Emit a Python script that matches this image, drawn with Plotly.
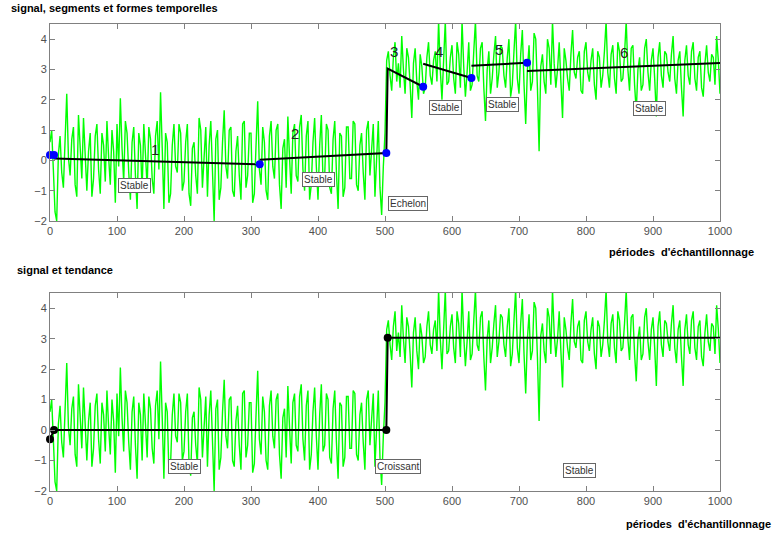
import plotly.graph_objects as go

# ---- data ----
# signal sampled every 2.5 sampling periods (0 .. 1000)
signal_first = [
    0.6, 1.0, -0.3, -1.7, -2.0, 0.2, 0.8, -0.4, -0.9, 1.1,
    2.2, 0.1, -0.5, 0.7, 1.1, -0.8, -1.2, 1.5, 0.4, -0.6,
    1.4, 0.2, -1.0, 0.3, 0.9, -1.2, -0.6, 0.8, 1.2, -0.3,
    -1.1, 0.9, 0.5, -0.7, 1.3, 0.1, -0.8, 1.0, 0.3, -1.4,
    1.2, -0.2, 2.05, 0.4, -0.7, 1.3, 0.9, -0.4, -1.3, 0.6,
    1.1, -0.5, -1.6, 0.9, 0.5, -1.0, 1.2, 0.2, -0.9, 1.1,
    0.7, -0.6, -1.1, 0.8, 1.3, -0.3, 2.25, 0.4, -1.6, 0.9,
    0.6, -1.4, -1.1, 0.5, 1.2, -0.2, -0.4, 1.2, 0.9, -1.0,
    -0.7, 0.6, 1.2, -1.1, -1.5, 0.4, 0.6, -0.5, -1.1, 1.4,
    1.0, -0.9, 0.3, 1.1, -1.2, 0.5, 1.3, -0.8, -2.0, 0.7,
    1.0, -1.3, -0.9, 0.6, 1.65, -0.2, -0.6, 1.0, 1.1, -1.0,
    -1.2, 0.3, 0.8, -0.5, -1.3, 1.2, 1.3, -0.9, -0.5, 0.9,
    0.9, -1.4, -1.1, 0.5, 1.95, -0.3, -0.8, 1.1, 0.6, -1.0,
    -1.3, 0.8, 1.3, -0.2, -0.6, 1.0, 1.2, -0.8, -1.6, 0.4,
    0.7, -0.9, 1.45, 0.1, -1.1, 0.9, 1.2, -0.5, -0.7, 1.1,
    1.5, -0.3, -1.0, 0.8, 1.3, -1.3, -0.8, 0.6, 1.4, -0.2,
    -1.3, 0.5, 1.5, -0.7, -0.5, 1.2, 1.0, -0.9, -1.1, 0.7,
    1.3, -0.4, -1.6, 0.9, 0.8, -1.2, -0.9, 1.1, 1.1, -0.6,
    -0.6, 1.3, 1.2, -0.8, -1.0, 0.5, 0.9, -0.4, -1.3, 1.0,
    1.3, -0.5, 0.3, 1.2, -1.2, 0.4, 1.3, -0.9, -1.8, -0.2,
    0.9,
]
signal_second = [
    3.3, 3.6, 2.8, 2.3, 3.4, 3.9, 2.6, 3.2, 2.4, 4.1,
    3.0, 2.2, 3.7, 3.4, 2.5, 1.4, 3.2, 3.7, 2.6, 2.0,
    3.5, 3.1, 2.2, 2.4, 3.4, 3.9, 2.8, 2.5, 3.3, 3.6,
    2.6, 4.6, 3.0, 2.0, 3.3, 4.6, 2.5, 2.6, 3.4, 3.8,
    2.7, 2.2, 3.9, 3.5, 2.4, 4.6, 3.1, 2.1, 2.9, 3.9,
    2.3, 2.5, 3.6, 4.6, 2.8, 2.6, 3.7, 3.9, 2.4, 1.3,
    3.0, 3.6, 2.2, 2.7, 3.5, 4.1, 2.4, 2.9, 3.8, 3.7,
    2.8, 2.4, 3.4, 4.0, 2.1, 2.5, 3.6, 4.6, 2.7, 2.2,
    3.5, 4.3, 2.5, 1.2, 3.0, 3.8, 2.3, 2.6, 4.2, 4.0,
    2.4, 0.3, 3.1, 3.5, 2.6, 2.2, 4.0, 3.7, 2.5, 4.6,
    3.2, 2.4, 3.0, 3.9, 2.6, 1.4, 3.7, 3.3, 2.7, 2.3,
    3.5, 4.3, 2.9, 2.7, 3.4, 3.6, 2.3, 2.2, 3.6, 3.9,
    2.9, 2.6, 3.3, 3.7, 2.5, 2.0, 3.6, 3.4, 2.4, 2.8,
    3.6, 4.6, 2.9, 2.4, 3.5, 3.8, 2.7, 2.2, 3.9, 3.6,
    2.6, 2.7, 3.5, 4.6, 3.0, 2.3, 3.7, 3.8, 2.5, 1.6,
    3.0, 3.4, 2.3, 2.5, 3.7, 4.0, 2.9, 2.3, 3.3, 3.7,
    2.7, 1.45, 3.4, 3.9, 2.8, 2.4, 3.6, 3.5, 2.9, 2.6,
    3.5, 4.1, 2.7, 2.2, 3.3, 3.6, 2.4, 1.45, 3.3, 3.8,
    2.8, 2.5, 3.6, 3.9, 2.7, 2.3, 3.4, 3.6, 2.4, 2.1,
    3.2, 3.8, 2.9, 2.6, 3.5, 3.4, 2.5, 4.1, 3.3, 2.2,
]
signal_y = signal_first + signal_second
signal_x = [i * 2.5 for i in range(len(signal_y))]

# segments (top panel)
seg_x = [6, 313, None, 313, 502, 504, 557, None, 557, 629, None, 629, 712, None, 712, 1000]
seg_y = [0.06, -0.13, None, 0.02, 0.24, 3.03, 2.43, None, 3.19, 2.72, None, 3.12, 3.22, None, 2.95, 3.21]
seg_pts_x = [0, 6, 313, 502, 557, 629, 712]
seg_pts_y = [0.18, 0.18, -0.13, 0.24, 2.43, 2.72, 3.22]
seg_num_labels = ["1", "2", "3", "4", "5", "6"]
seg_num_x = [156, 366, 513, 581, 670, 857]
seg_num_y = [0.35, 0.9, 3.6, 3.6, 3.65, 3.55]
shape_top_labels = ["Stable", "Stable", "Echelon", "Stable", "Stable", "Stable"]
shape_top_x = [126, 401, 534, 590, 675, 895]
shape_top_y = [-0.83, -0.63, -1.42, 1.75, 1.85, 1.72]

# trend (bottom panel)
trend_x = [0, 6, 502, 504, 1000]
trend_y = [-0.3, 0.0, 0.0, 3.03, 3.03]
trend_pts_x = [0, 6, 502, 504]
trend_pts_y = [-0.3, 0.0, 0.0, 3.03]
shape_bot_labels = ["Stable", "Croissant", "Stable"]
shape_bot_x = [201, 519, 791]
shape_bot_y = [-1.19, -1.19, -1.32]

x_ticks = [0, 100, 200, 300, 400, 500, 600, 700, 800, 900, 1000]
y_ticks = [-2, -1, 0, 1, 2, 3, 4]

# ---- figure ----
W, H = 776, 536
L, R, T, B = 50, 56, 24, 45
PH = H - T - B

def py(p):
    return (H - B - p) / PH

def px(p):
    return (p - L) / (W - L - R)

fig = go.Figure()
FONT = "Liberation Sans, Arial, sans-serif"

for xa, ya in [("x", "y"), ("x2", "y2")]:
    fig.add_trace(go.Scatter(x=signal_x, y=signal_y, mode="lines",
                             line=dict(color="#00ff00", width=1.4),
                             xaxis=xa, yaxis=ya, showlegend=False, hoverinfo="skip"))

fig.add_trace(go.Scatter(x=seg_x, y=seg_y, mode="lines",
                         line=dict(color="black", width=2), xaxis="x", yaxis="y",
                         showlegend=False, connectgaps=False))
fig.add_trace(go.Scatter(x=seg_pts_x, y=seg_pts_y, mode="markers",
                         marker=dict(color="#0000ff", size=8), xaxis="x", yaxis="y",
                         showlegend=False, cliponaxis=False))
fig.add_trace(go.Scatter(x=trend_x, y=trend_y, mode="lines",
                         line=dict(color="black", width=2), xaxis="x2", yaxis="y2",
                         showlegend=False))
fig.add_trace(go.Scatter(x=trend_pts_x, y=trend_pts_y, mode="markers",
                         marker=dict(color="black", size=8), xaxis="x2", yaxis="y2",
                         showlegend=False, cliponaxis=False))

annotations = []
for t, x, y in zip(seg_num_labels, seg_num_x, seg_num_y):
    annotations.append(dict(x=x, y=y, xref="x", yref="y", text=t, showarrow=False,
                            font=dict(family=FONT, size=15, color="#222222")))
for t, x, y in zip(shape_top_labels, shape_top_x, shape_top_y):
    annotations.append(dict(x=x, y=y, xref="x", yref="y", text=t, showarrow=False,
                            font=dict(family=FONT, size=10, color="#333333"),
                            bgcolor="white", bordercolor="#666666", borderwidth=1, borderpad=1))
for t, x, y in zip(shape_bot_labels, shape_bot_x, shape_bot_y):
    annotations.append(dict(x=x, y=y, xref="x2", yref="y2", text=t, showarrow=False,
                            font=dict(family=FONT, size=10, color="#333333"),
                            bgcolor="white", bordercolor="#666666", borderwidth=1, borderpad=1))

bold = dict(family=FONT, size=11, color="black")
annotations += [
    dict(x=px(9), y=py(8), xref="paper", yref="paper", xanchor="left", yanchor="middle",
         text="<b>signal, segments et formes temporelles</b>", showarrow=False, font=bold),
    dict(x=px(15), y=py(270), xref="paper", yref="paper", xanchor="left", yanchor="middle",
         text="<b>signal et tendance</b>", showarrow=False, font=bold),
    dict(x=px(756), y=py(252), xref="paper", yref="paper", xanchor="right", yanchor="middle",
         text="<b>périodes  d'échantillonnage</b>", showarrow=False, font=bold),
    dict(x=px(773), y=py(524), xref="paper", yref="paper", xanchor="right", yanchor="middle",
         text="<b>périodes  d'échantillonnage</b>", showarrow=False, font=bold),
]

axis_common = dict(showgrid=False, zeroline=False, showline=True, linecolor="#808080",
                   linewidth=1, mirror="ticks", ticks="inside", ticklen=5,
                   tickcolor="#808080", tickfont=dict(family=FONT, size=11, color="#505050"))

fig.update_layout(
    width=W, height=H, margin=dict(l=L, r=R, t=T, b=B),
    paper_bgcolor="white", plot_bgcolor="white", showlegend=False,
    xaxis=dict(domain=[0, 1], range=[0, 1000], tickvals=x_ticks, anchor="y", **axis_common),
    yaxis=dict(domain=[py(221), 1], range=[-2, 4.5], tickvals=y_ticks, anchor="x", **axis_common),
    xaxis2=dict(domain=[0, 1], range=[0, 1000], tickvals=x_ticks, anchor="y2", **axis_common),
    yaxis2=dict(domain=[0, py(293)], range=[-2, 4.5], tickvals=y_ticks, anchor="x2", **axis_common),
    annotations=annotations,
)

fig.write_html("out.html", config={"displayModeBar": False},
               post_script="document.body.style.margin='0';")
